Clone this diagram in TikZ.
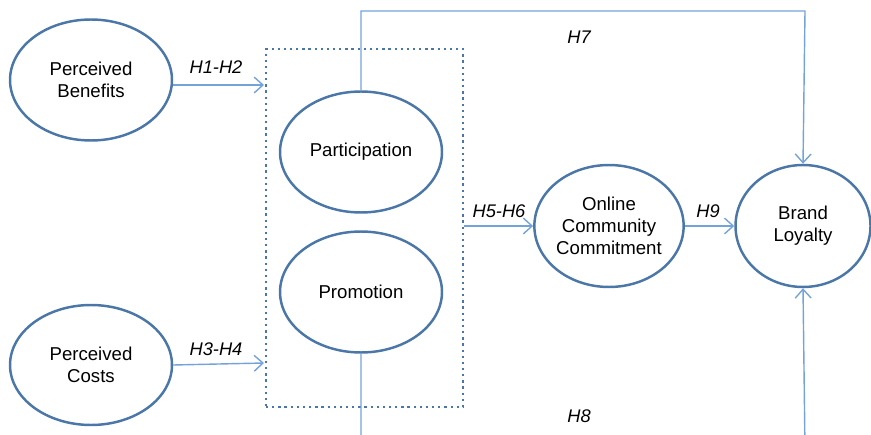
\documentclass[tikz,border=0pt]{standalone}
\usepackage{fontspec}
\setmainfont{Liberation Sans}
\usetikzlibrary{shapes,arrows.meta}
\definecolor{ringblue}{HTML}{4A76A8}
\definecolor{pathblue}{HTML}{74A3D9}
\tikzset{
  construct/.style={ellipse,draw=ringblue,line width=1.4pt,inner sep=0pt,align=center,font=\fontsize{10.6}{12.6}\selectfont},
  hypo/.style={draw=pathblue,line width=0.8pt,-{Straight Barb[length=5pt,width=9pt,line width=0.8pt]}},
  hlabel/.style={font=\fontsize{10.4}{12}\selectfont\itshape}
}
\newcommand{\construct}[6]{\node[construct,minimum width=#4cm,minimum height=#5cm] (#1) at (#2,#3) {#6};}
\newcommand{\hlab}[3]{\node[hlabel] at (#1,#2) {#3};}

\begin{document}
\begin{tikzpicture}[x=0.02cm,y=-0.02cm]
    \useasboundingbox (0,0) rectangle (871,435);
    \construct{benefits}{91}{80}{3.24}{2.42}{Perceived\\Benefits}
    \construct{costs}{91}{365}{3.24}{2.4}{Perceived\\Costs}
    \construct{particip}{361}{152}{3.24}{2.42}{Participation}
    \construct{promo}{361}{292}{3.24}{2.42}{Promotion}
    \construct{commit}{609}{226}{2.94}{2.44}{Online\\Community\\Commitment}
    \construct{brand}{803}{226}{2.7}{2.44}{Brand\\Loyalty}
    \node[draw=ringblue,line width=1.3pt,dash pattern=on 1.3pt off 2.2pt,minimum width=3.94cm,minimum height=7.16cm] (engage) at (364.5,228) {};
    \coordinate (inBen) at (264,85);
    \coordinate (inCost) at (264,363);
    \draw[hypo] (benefits.east |- inBen) -- (inBen);
    \draw[hypo] (costs.east) -- (inCost);
    \draw[hypo] (engage.east |- commit) -- (commit);
    \draw[hypo] (commit) -- (brand);
    \draw[hypo] (particip.north) -- (361,11) -- (805,11) -- (brand.north);
    \begin{scope}
      \clip (0,0) rectangle (871,435);
      \draw[hypo] (promo.south) -- (361,450) -- (805,450) -- (brand.south);
    \end{scope}
    \hlab{216}{67}{H1-H2}
    \hlab{216}{349}{H3-H4}
    \hlab{499}{211}{H5-H6}
    \hlab{708}{211}{H9}
    \hlab{579}{37}{H7}
    \hlab{579}{416}{H8}
\end{tikzpicture}
\end{document}
